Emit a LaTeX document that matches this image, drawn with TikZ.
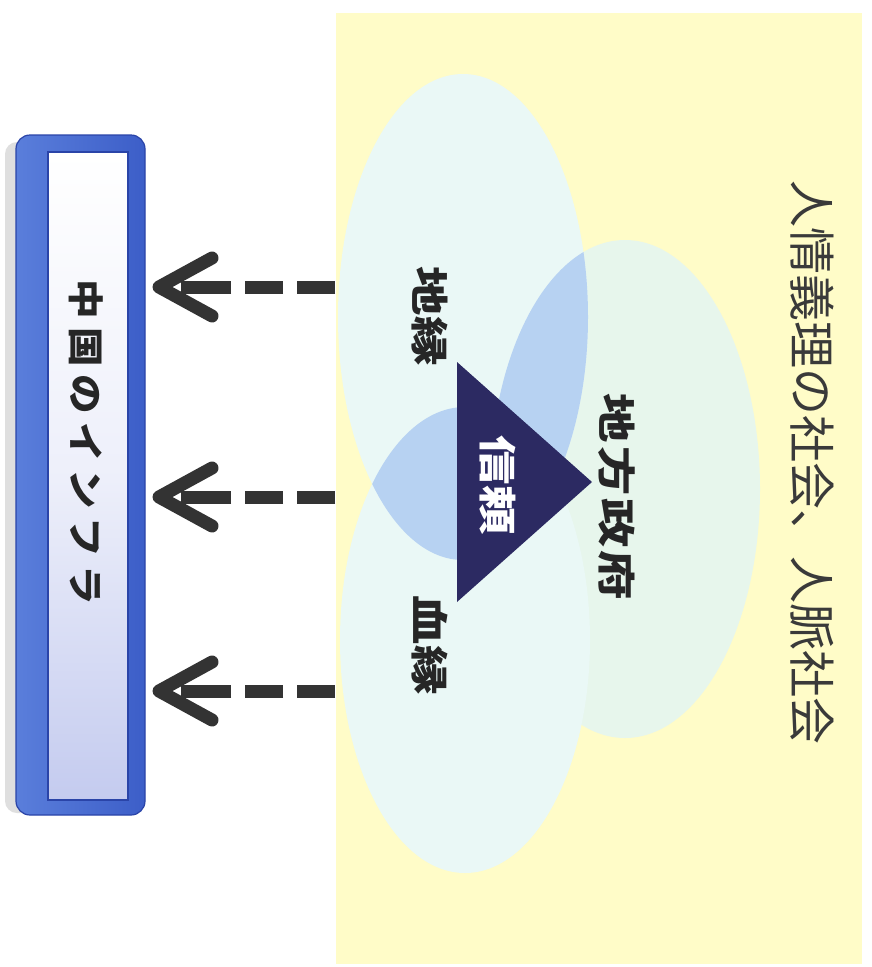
\documentclass[tikz,border=0pt]{standalone}
\usepackage{fontspec}
\newfontfamily\jp{Noto Sans CJK JP}
\newfontfamily\jpwide{Noto Sans CJK JP}[FakeStretch=1.3]
\newfontfamily\jpmid{Noto Sans CJK JP}[FakeStretch=1.1]
\usetikzlibrary{calc}
\definecolor{panelyellow}{HTML}{FFFCC8}
\definecolor{ellcyan}{HTML}{EAF8F6}
\definecolor{ellgreen}{HTML}{E7F6EC}
\definecolor{lensblue}{HTML}{B7D2F2}
\definecolor{trinavy}{HTML}{2C2A62}
\definecolor{inkdark}{HTML}{262626}
\definecolor{titleink}{HTML}{3A3A3A}
\definecolor{framedark}{HTML}{2A44A8}
\definecolor{framelight}{HTML}{5A7EDB}
\definecolor{framemid}{HTML}{3C5EC8}
\definecolor{innerlav}{HTML}{C4CBEF}
\definecolor{arrowgray}{HTML}{333333}
\tikzset{
  labeljp/.style={rotate=-90, text=inkdark, inner sep=0pt,
    font=\jpwide\bfseries\fontsize{38}{38}\selectfont},
  titlejp/.style={rotate=-90, text=titleink, inner sep=0pt,
    font=\jp\fontsize{47}{47}\selectfont},
  dashline/.style={draw=arrowgray, line width=13pt,
    dash pattern=on 38pt off 14pt on 38pt off 14pt on 50pt off 200pt},
  chevron/.style={draw=arrowgray, line width=13pt, line cap=round, line join=round},
}
\begin{document}
\begin{tikzpicture}[x=1pt,y=-1pt]
\useasboundingbox (0,0) rectangle (871,967);
\fill[white] (0,0) rectangle (871,967);

% yellow panel
\node[fill=panelyellow, minimum width=526pt, minimum height=951pt, inner sep=0pt, draw=none]
  (panel) at (599,488.5) {};

% ellipses
\fill[ellgreen] (625,489) ellipse [x radius=135, y radius=249];
\fill[ellcyan] (463,317) ellipse [x radius=125, y radius=243];
\fill[ellcyan] (465,640) ellipse [x radius=125, y radius=233];
\begin{scope}
  \clip (463,317) ellipse [x radius=125, y radius=243];
  \fill[lensblue] (465,640) ellipse [x radius=125, y radius=233];
  \fill[lensblue] (625,489) ellipse [x radius=135, y radius=249];
\end{scope}

% central triangle
\fill[trinavy] (457,362) -- (457,602) -- (592,482) -- cycle;
\node[labeljp, text=white] (trust) at (498,485) {信頼};

% labels
\node[labeljp] (chien) at (430,316) {地縁};
\node[labeljp] (ketsuen) at (430,645) {血縁};
\node[labeljp] (gov) at (617,497) {地\kern3pt 方\kern3pt 政\kern3pt 府};
\node[titlejp] (title) at (812,462) {人情義理の社会、人脈社会};

% left bar
\fill[gray!25] (5,142) [rounded corners=12pt] rectangle (40,813);
\shade[left color=framelight, right color=framemid, rounded corners=14pt]
  (16,135) rectangle (145,815);
\draw[framedark, line width=1.2pt, rounded corners=14pt] (16,135) rectangle (145,815);
\node[top color=white, bottom color=innerlav, middle color=white!70!innerlav,
  draw=framedark, line width=1.5pt, minimum width=80pt, minimum height=648pt, inner sep=0pt]
  (bar) at (88,476) {};
\node[rotate=-90, text=inkdark, inner sep=0pt, font=\jpmid\bfseries\fontsize{36}{36}\selectfont]
  (infra) at (86,442) {中\kern8pt 国\kern8pt の\kern8pt イ\kern8pt ン\kern8pt フ\kern8pt ラ};

% dashed arrows
\foreach \i/\yy in {1/287,2/497,3/691}{
  \coordinate (s\i) at (335,\yy);
  \coordinate (m\i) at (181,\yy);
  \coordinate (t\i) at (159,\yy);
  \draw[dashline] (s\i) -- (m\i);
  \draw[chevron] ($(t\i)+(53,-29)$) -- (t\i) -- ($(t\i)+(53,29)$);
}
\end{tikzpicture}
\end{document}
